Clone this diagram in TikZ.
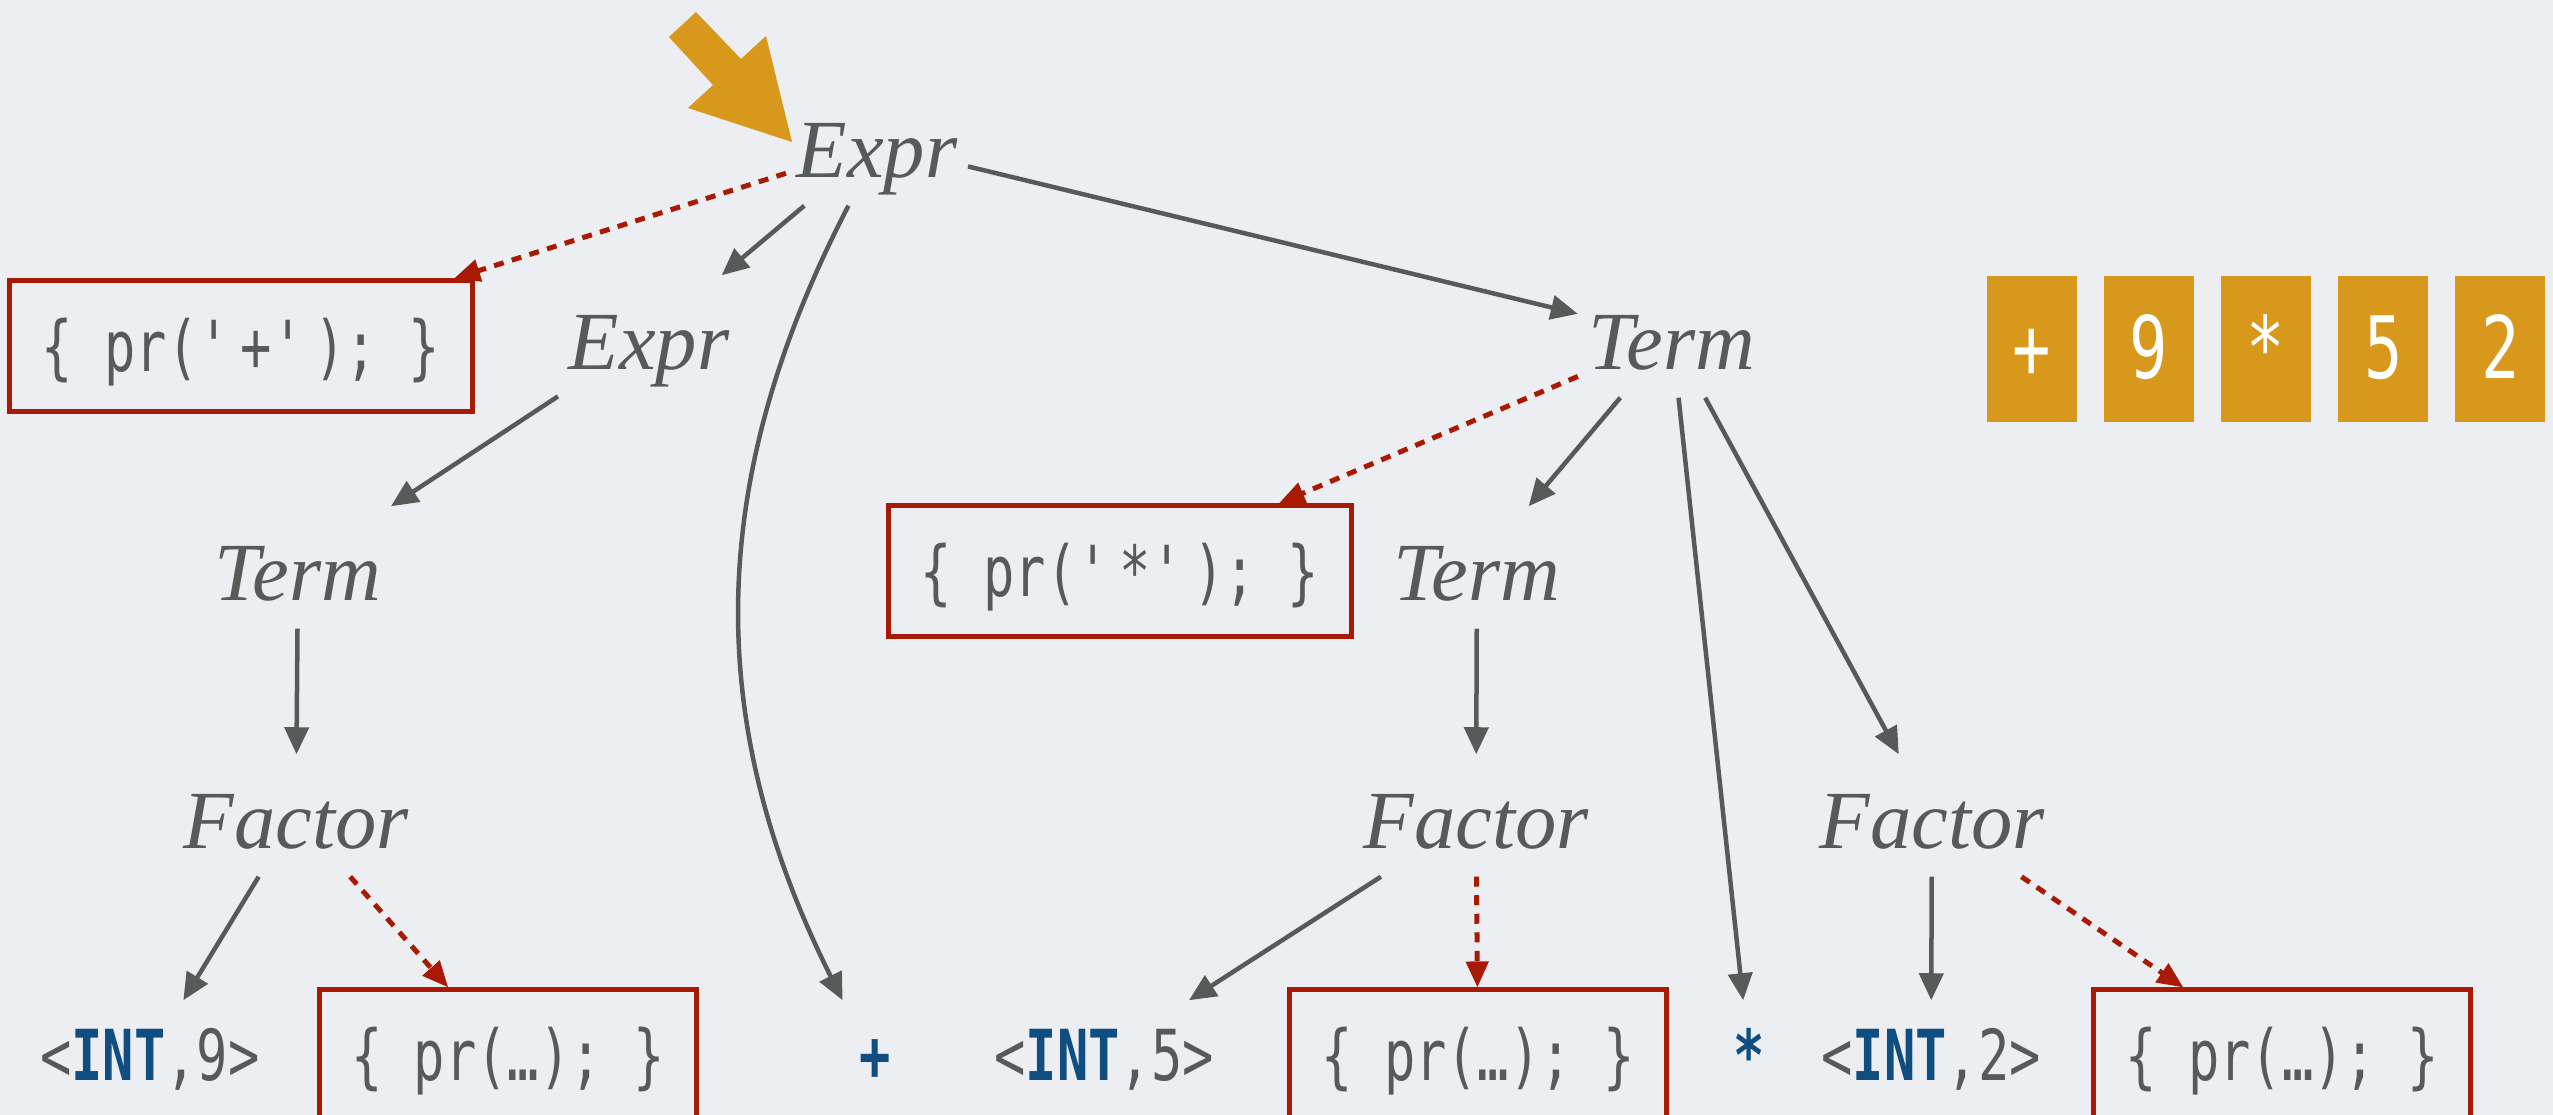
\documentclass[tikz,border=0pt]{standalone}
\usepackage{fontspec}
\setmainfont{Liberation Serif}
\newfontfamily\codefont{DejaVu Sans Mono}[FakeStretch=0.74]
\usetikzlibrary{arrows.meta,positioning}
\definecolor{bggray}{RGB}{236,238,241}
\definecolor{inkgray}{RGB}{88,90,90}
\definecolor{actred}{RGB}{168,26,4}
\definecolor{tokorange}{RGB}{216,152,28}
\definecolor{intblue}{RGB}{16,77,128}
\newcommand{\tokint}[1]{<{\bfseries\color{intblue}INT},#1>}
\newcommand{\pract}[1]{\{ pr(#1); \}}

\begin{document}
\begin{tikzpicture}[
    x=0.01cm, y=-0.01cm,
    node distance=1.17cm,
    sym/.style={anchor=base, text=inkgray, font=\fontsize{23.5}{28}\selectfont\itshape,
        text height=0.8cm, text depth=0.15cm, inner xsep=0.1cm, inner ysep=0.13cm},
    leaf/.style={anchor=base, text=inkgray, font=\fontsize{20}{24}\selectfont\codefont,
        text height=0.65cm, text depth=0.15cm, inner xsep=0.05cm, inner ysep=0.14cm},
    op/.style={leaf, text=intblue, font=\fontsize{20}{24}\selectfont\codefont\bfseries, inner xsep=0.16cm},
    act/.style={leaf, draw=actred, line width=0.05cm, inner xsep=0.32cm, inner ysep=0.25cm},
    tok/.style={fill=tokorange, text=white, font=\fontsize{24.5}{29}\selectfont\codefont,
        minimum width=0.9cm, text height=1.02cm, text depth=0.44cm, inner sep=0pt},
    arrow/.style={-{Triangle[length=0.27cm,width=0.24cm]}, draw=inkgray, line width=0.045cm},
    actarrow/.style={-{Triangle[length=0.26cm,width=0.22cm]}, draw=actred, line width=0.05cm,
        dash pattern=on 0.1cm off 0.085cm}
]
    \path[use as bounding box, fill=bggray] (0,0) rectangle (2553,1115);

    \fill[tokorange] (696,12) -- (741,59) -- (766,36) -- (792,142) -- (688,108) -- (713,85) -- (669,37) -- cycle;

    \node[sym] (exprA) at (877,177) {Expr};
    \node[sym] (exprB) at (649,369) {Expr};
    \node[sym] (termA) at (1672,369) {Term};
    \node[sym] (termB) at (298,600) {Term};
    \node[sym] (termC) at (1477,600) {Term};
    \node[sym] (factorA) at (296,848) {Factor};
    \node[sym] (factorB) at (1476,848) {Factor};
    \node[sym] (factorC) at (1932,848) {Factor};

    \node[act] (plusact) at (241,371) {\pract{\textquotesingle+\textquotesingle}};
    \node[act] (staract) at (1120,596) {\pract{\textquotesingle*\textquotesingle}};

    \node[leaf] (int9) at (150,1080) {\tokint{9}};
    \node[act] (act9) at (508,1080) {\pract{\textellipsis}};
    \node[op] (plusop) at (875,1080) {+};
    \node[leaf] (int5) at (1104,1080) {\tokint{5}};
    \node[act] (act5) at (1478,1080) {\pract{\textellipsis}};
    \node[op] (starop) at (1749,1080) {*};
    \node[leaf] (int2) at (1931,1080) {\tokint{2}};
    \node[act] (act2) at (2282,1080) {\pract{\textellipsis}};

    \node[tok] (tok1) at (2032,349) {+};
    \node[tok, right of=tok1] (tok2) {9};
    \node[tok, right of=tok2] (tok3) {*};
    \node[tok, right of=tok3] (tok4) {5};
    \node[tok, right of=tok4] (tok5) {2};

    \draw[actarrow] (exprA) -- (plusact);
    \draw[arrow] (exprA) -- (exprB);
    \draw[arrow] (exprA.-115) to[bend right=27] (plusop.north west);
    \draw[arrow] (exprA) -- (termA);
    \draw[arrow] (exprB) -- (termB);
    \draw[arrow] (termB) -- (factorA);
    \draw[arrow] (factorA) -- (int9);
    \draw[actarrow] (factorA) -- (act9);
    \draw[actarrow] (termA) -- (staract);
    \draw[arrow] (termA) -- (termC);
    \draw[arrow] (termA) -- (starop);
    \draw[arrow] (termA) -- (factorC);
    \draw[arrow] (termC) -- (factorB);
    \draw[arrow] (factorB) -- (int5);
    \draw[actarrow] (factorB) -- (act5);
    \draw[arrow] (factorC) -- (int2);
    \draw[actarrow] (factorC) -- (act2);
\end{tikzpicture}
\end{document}
